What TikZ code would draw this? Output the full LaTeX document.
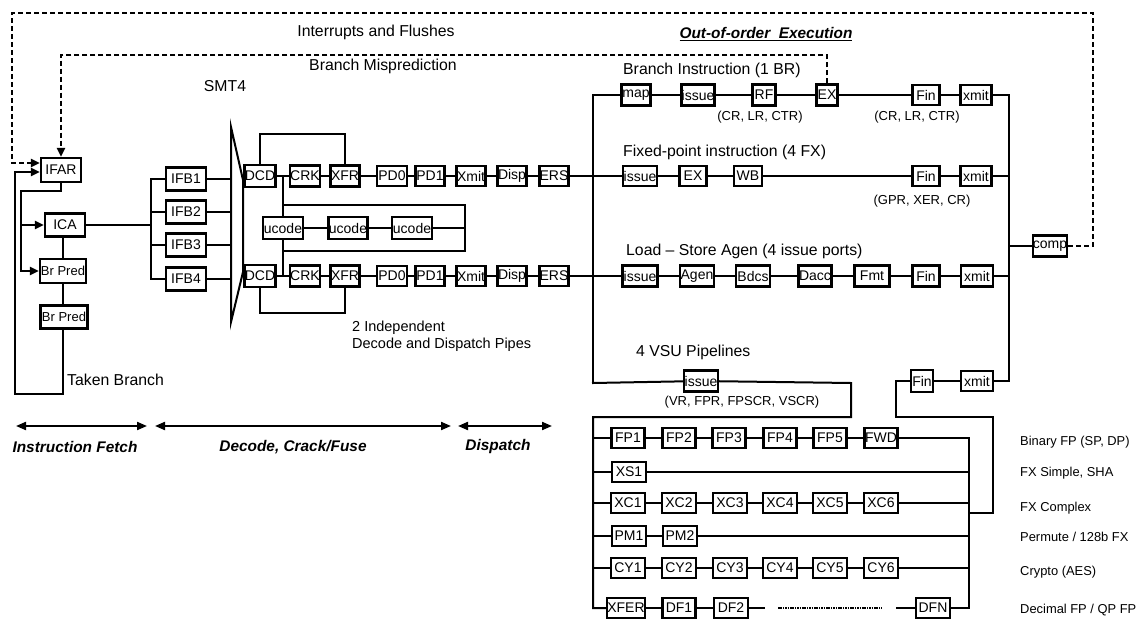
\documentclass[tikz,border=0pt]{standalone}
\usepackage{fontspec}
\setmainfont{Liberation Sans}
\usetikzlibrary{arrows.meta}
\begin{document}
\begin{tikzpicture}[x=1pt,y=-1pt,
  bx/.style={draw, line width=2.2pt, inner sep=0pt, minimum height=21pt, font=\fontsize{14}{16}\selectfont},
  pbx/.style={bx, minimum width=34pt, minimum height=20pt, font=\fontsize{14}{16}\selectfont},
  ln/.style={line width=2pt, line cap=rect},
  dl/.style={line width=2pt, dash pattern=on 5pt off 3pt},
  dots/.style={line width=1.6pt, dash pattern=on 1.6pt off 0.8pt},
  tip/.style={-{Triangle[length=9pt,width=8pt]}},
  dtip/.style={{Triangle[length=10pt,width=8pt]}-{Triangle[length=10pt,width=8pt]}},
  lbl/.style={inner sep=0pt, font=\fontsize{15.8}{18}\selectfont},
  ml/.style={inner sep=0pt, anchor=west, font=\fontsize{14.5}{17}\selectfont},
  sl/.style={inner sep=0pt, font=\fontsize{13}{15}\selectfont},
  rl/.style={inner sep=0pt, anchor=west, font=\fontsize{12.9}{15}\selectfont},
  stg/.style={inner sep=0pt, font=\fontsize{15.4}{18}\selectfont\bfseries\itshape},
]
\useasboundingbox (0,0) rectangle (1146,627);

% ---------------- fetch ----------------
\node[bx,minimum width=40pt,minimum height=24pt] (ifar) at (61,170) {IFAR};
\node[bx,minimum width=40pt,minimum height=23pt] (ica) at (65,225) {ICA};
\node[bx,minimum width=46pt,minimum height=24pt,font=\fontsize{13}{15}\selectfont] (bp1) at (63,271) {Br Pred};
\node[bx,minimum width=47pt,minimum height=23pt,font=\fontsize{13}{15}\selectfont] (bp2) at (64,317) {Br Pred};
\foreach \i/\y in {1/179,2/212,3/245,4/279}
  \node[bx,minimum width=40pt,minimum height=23pt] (ifb\i) at (186,\y) {IFB\i};

\coordinate (fa) at (21,191);
\coordinate (tb) at (15,394);
\coordinate (fbus) at (151,225);
\coordinate (muxa) at (231,127);
\coordinate (muxb) at (243,180);
\coordinate (muxc) at (243,272);
\coordinate (muxd) at (231,322);

\draw[ln,tip] (ifar.south) |- (fa) |- (bp1.west);
\draw[ln,tip] (fa |- ica.west) -- (ica.west);
\draw[ln] (ica.south -| bp1.north) -- (bp1.north);
\draw[ln] (bp1.south) -- (bp1.south |- bp2.north);
\draw[ln,tip] (bp1.south |- bp2.south) |- (tb) |- ([yshift=-2pt]ifar.west);
\node[lbl,anchor=west] (taken) at (67,380) {Taken Branch};

\draw[ln] (ica.east) -- (fbus);
\draw[ln] (fbus |- ifb1.west) -- (fbus |- ifb4.west);
\foreach \i in {1,...,4} {
  \draw[ln] (fbus |- ifb\i.west) -- (ifb\i.west);
  \draw[ln] (ifb\i.east) -- (ifb\i.east -| muxa);
}
\draw[line width=2pt, line join=miter] (muxa) -- (muxb) -- (muxc) -- (muxd) -- cycle;
\node[lbl] (smt) at (225,86) {SMT4};

% ---------------- decode ----------------
\foreach \r/\y in {1/176,2/276} {
  \node[bx,minimum width=31pt,minimum height=22pt] (dcd\r) at (260,\y) {DCD};
  \node[bx,minimum width=28pt] (crk\r) at (305,\y) {CRK};
  \node[bx,minimum width=29pt] (xfr\r) at (345,\y) {XFR};
  \node[bx,minimum width=30pt,minimum height=20pt] (pdz\r) at (392,\y) {PD0};
  \node[bx,minimum width=29pt,minimum height=20pt] (pdo\r) at (430,\y) {PD1};
  \node[bx,minimum width=29pt,minimum height=20pt] (xmt\r) at (471,\y) {Xmit};
  \node[bx,minimum width=29pt,minimum height=20pt] (dsp\r) at (512,\y) {Disp};
  \node[bx,minimum width=29pt,minimum height=20pt] (ers\r) at (554,\y) {ERS};
  \draw[ln] (dcd\r) -- (crk\r) -- (xfr\r) -- (pdz\r) -- (pdo\r) -- (xmt\r) -- (dsp\r) -- (ers\r);
}
\coordinate (lp1) at (0,134);
\coordinate (lp2) at (0,313);
\draw[ln] (dcd1.north) |- (xfr1.north |- lp1) -- (xfr1.north);
\draw[ln] (dcd2.south) |- (xfr2.south |- lp2) -- (xfr2.south);

\node[bx,minimum width=40pt,minimum height=22pt] (uc1) at (283,228) {ucode};
\node[bx,minimum width=39pt,minimum height=22pt] (uc2) at (348,228) {ucode};
\node[bx,minimum width=40pt,minimum height=22pt] (uc3) at (412,228) {ucode};
\coordinate (uf1) at (465,205);
\coordinate (uf2) at (465,251);
\draw[ln] (uc1.north |- dcd1) -- (uc1.north);
\draw[ln] (uc1.south) -- (uc1.south |- dcd2);
\draw[ln] (uc1.north |- uf1) -- (uf1) -- (uf2) -- (uc1.south |- uf2);
\draw[ln] (uc1) -- (uc2) -- (uc3) -- (uc3 -| uf1);
\node[ml] (ind1) at (352,328) {2 Independent};
\node[ml] (ind2) at (352,345) {Decode and Dispatch Pipes};

% ---------------- execution ----------------
\coordinate (eb1) at (593,95);
\coordinate (eb2) at (593,383);
\coordinate (rb1) at (1009,95);
\coordinate (rb2) at (1009,381);

\node[bx,minimum width=29pt] (map) at (636,95) {map};
\node[bx,minimum width=33pt] (iss1) at (698,95) {issue};
\node[bx,minimum width=23pt] (rf) at (764,95) {RF};
\node[bx,minimum width=21pt] (ex1) at (827,95) {EX};
\node[bx,minimum width=27pt,minimum height=20pt] (fin1) at (926,95) {Fin};
\node[bx,minimum width=31pt,minimum height=20pt] (xm1) at (976,95) {xmit};
\node[lbl,anchor=west] (brl) at (623,70) {Branch Instruction (1 BR)};
\node[sl] (crl1) at (760,117) {(CR, LR, CTR)};
\node[sl] (crl2) at (917,117) {(CR, LR, CTR)};

\node[bx,minimum width=34pt,minimum height=20pt] (fxiss) at (640,176) {issue};
\node[bx,minimum width=27pt,minimum height=20pt] (fxex) at (693,176) {EX};
\node[bx,minimum width=28pt,minimum height=20pt] (wb) at (748,176) {WB};
\node[bx,minimum width=27pt,minimum height=20pt] (fin2) at (926,176) {Fin};
\node[bx,minimum width=31pt,minimum height=20pt] (xm2) at (976,176) {xmit};
\node[lbl,anchor=west] (fxl) at (623,152) {Fixed-point instruction (4 FX)};
\node[sl] (gpr) at (922,201) {(GPR, XER, CR)};

\node[bx,minimum width=35pt] (lsiss) at (640,276) {issue};
\node[bx,minimum width=34pt] (agen) at (697,276) {Agen};
\node[bx,minimum width=34pt] (bdcs) at (753,276) {Bdcs};
\node[bx,minimum width=33pt] (dacc) at (815,276) {Dacc};
\node[bx,minimum width=35pt] (fmt) at (872,276) {Fmt};
\node[bx,minimum width=27pt] (fin3) at (926,276) {Fin};
\node[bx,minimum width=32pt] (xm3) at (977,276) {xmit};
\node[lbl,anchor=west] (lsl) at (626,251) {Load – Store Agen (4 issue ports)};

\node[bx,minimum width=34pt] (vsuiss) at (701,381) {issue};
\node[bx,minimum width=22pt,minimum height=22pt] (fin4) at (922,381) {Fin};
\node[bx,minimum width=32pt,minimum height=20pt] (xm4) at (977,381) {xmit};
\node[lbl,anchor=west] (vsul) at (636,352) {4 VSU Pipelines};
\node[sl] (vrl) at (742,402) {(VR, FPR, FPSCR, VSCR)};

\node[bx,minimum width=34pt] (comp) at (1050,246) {comp};

\draw[ln] (eb1) -- (eb2);
\draw[ln] (eb1) -- (map) -- (iss1) -- (rf) -- (ex1) -- (fin1) -- (xm1) -- (rb1);
\draw[ln] (ers1) -- (fxiss) -- (fxex) -- (wb) -- (fin2) -- (xm2) -- (xm2 -| rb1);
\draw[ln] (ers2) -- (lsiss) -- (agen) -- (bdcs) -- (dacc) -- (fmt) -- (fin3) -- (xm3) -- (xm3 -| rb1);
\draw[ln] (rb1) -- (rb2);
\draw[ln] (fin4) -- (xm4) -- (rb2);
\draw[ln] (comp -| rb1) -- (comp);

% ---------------- VSU pipelines ----------------
\coordinate (va) at (851,383);
\coordinate (vb) at (851,417);
\coordinate (vc) at (593,417);
\coordinate (pl) at (593,608);
\coordinate (wa) at (896,417);
\coordinate (wb2) at (993,417);
\coordinate (wc) at (993,513);
\coordinate (pr) at (969,513);
\coordinate (pr1) at (969,438);
\coordinate (pr2) at (969,608);

\foreach \x/\t [count=\c] in {628/FP1,679/FP2,729/FP3,780/FP4,830/FP5,881/FWD}
  \node[pbx,minimum width=33pt] (fp\c) at (\x,438) {\t};
\node[pbx] (xs1) at (629,472) {XS1};
\foreach \x [count=\c] in {628,679,730,780,830,881}
  \node[pbx] (xc\c) at (\x,503) {XC\c};
\node[pbx] (pm1) at (629,536) {PM1};
\node[pbx] (pm2) at (680,536) {PM2};
\foreach \x [count=\c] in {628,679,730,780,830,881}
  \node[pbx] (cy\c) at (\x,568) {CY\c};
\node[pbx,minimum width=33pt] (xfer) at (626,608) {XFER};
\node[pbx,minimum width=33pt] (df1) at (679,608) {DF1};
\node[pbx] (df2) at (731,608) {DF2};
\node[pbx] (dfn) at (933,608) {DFN};
\coordinate (d1) at (764,608);
\coordinate (d2) at (778,608);
\coordinate (d3) at (882,608);
\coordinate (d4) at (897,608);

\draw[ln, line join=miter] (eb2) -- (vsuiss) -- (va) -- (vb) -- (vc) -- (pl) -- (xfer);
\draw[ln, line join=miter] (fin4.west) -| (wa) -- (wb2) -- (wc) -- (pr);
\draw[ln, line join=miter] (fp6) -- (pr1) -- (pr2) -- (dfn);
\draw[ln] (pl |- fp1) -- (fp1) -- (fp2) -- (fp3) -- (fp4) -- (fp5) -- (fp6);
\draw[ln] (pl |- xs1) -- (xs1) -- (xs1 -| pr1);
\draw[ln] (pl |- xc1) -- (xc1) -- (xc2) -- (xc3) -- (xc4) -- (xc5) -- (xc6) -- (xc6 -| pr1);
\draw[ln] (pl |- pm1) -- (pm1) -- (pm2) -- ([xshift=-2pt]pm2 -| pr1);
\draw[ln] (pl |- cy1) -- (cy1) -- (cy2) -- (cy3) -- (cy4) -- (cy5) -- (cy6) -- (cy6 -| pr1);
\draw[ln] (xfer) -- (df1) -- (df2) -- (d1);
\draw[dots] (d2) -- (d3);
\draw[ln] (d4) -- (dfn);

\node[rl] (r1) at (1020,442) {Binary FP (SP, DP)};
\node[rl] (r2) at (1020,473) {FX Simple, SHA};
\node[rl] (r3) at (1020,508) {FX Complex};
\node[rl] (r4) at (1020,537) {Permute / 128b FX};
\node[rl] (r5) at (1020,572) {Crypto (AES)};
\node[rl] (r6) at (1020,610) {Decimal FP / QP FP};

% ---------------- feedback (dashed) ----------------
\coordinate (ia) at (1093,13);
\coordinate (ib) at (12,13);
\coordinate (bm) at (0,55);
\draw[dl,tip] (comp.east) -| (ia) -- (ib) |- ([yshift=7pt]ifar.west);
\draw[dl,tip] (ex1.north) |- (ifar.north |- bm) -- (ifar.north);
\node[lbl] (intl) at (376,32) {Interrupts and Flushes};
\node[stg] (ooo) at (766,34) {\underline{Out-of-order\ \ Execution}};
\node[lbl] (bml) at (383,66) {Branch Misprediction};

% ---------------- stages ----------------
\coordinate (s1a) at (16,426);
\coordinate (s1b) at (147,426);
\coordinate (s2a) at (155,426);
\coordinate (s2b) at (451,426);
\coordinate (s3a) at (458,426);
\coordinate (s3b) at (552,426);
\draw[ln,line cap=butt,dtip] (s1a) -- (s1b);
\draw[ln,line cap=butt,dtip] (s2a) -- (s2b);
\draw[ln,line cap=butt,dtip] (s3a) -- (s3b);
\node[stg] (st1) at (75,447) {Instruction Fetch};
\node[stg] (st2) at (293,447) {Decode, Crack/Fuse};
\node[stg] (st3) at (498,447) {Dispatch};
\end{tikzpicture}
\end{document}
